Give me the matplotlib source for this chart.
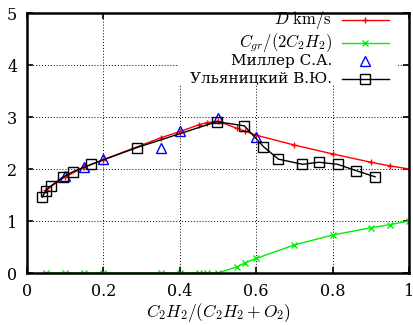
import matplotlib

matplotlib.use("Agg")
import matplotlib.pyplot as plt
from matplotlib.patches import Rectangle

# detonation speed and graphite fraction vs. acetylene fraction
x_calc = [0.05, 0.1, 0.15, 0.2, 0.35, 0.4, 0.45, 0.47, 0.5, 0.55, 0.57, 0.6, 0.7, 0.8, 0.9, 0.95, 1.0]
d_speed = [1.6, 1.85, 2.03, 2.18, 2.6, 2.72, 2.85, 2.89, 2.92, 2.78, 2.73, 2.65, 2.46, 2.29, 2.13, 2.06, 2.0]
c_gr = [0, 0, 0, 0, 0, 0, 0, 0, 0, 0.12, 0.19, 0.28, 0.54, 0.73, 0.87, 0.93, 1.0]

x_miller = [0.1, 0.15, 0.2, 0.35, 0.4, 0.5, 0.6]
d_miller = [1.87, 2.03, 2.2, 2.4, 2.73, 2.98, 2.62]

x_ulyan = [0.04, 0.049, 0.062, 0.093, 0.121, 0.168, 0.287, 0.497, 0.569, 0.619, 0.658,
           0.721, 0.764, 0.813, 0.861, 0.911]
d_ulyan = [1.46, 1.58, 1.67, 1.84, 1.95, 2.09, 2.41, 2.91, 2.83, 2.43, 2.19,
           2.09, 2.13, 2.09, 1.97, 1.85]

labels = [r"$D\ \mathrm{km/s}$", "$C_{gr}/(2C_2H_2)$", "Миллер С.А.", "Ульяницкий В.Ю."]

x_ticks = [0, 0.2, 0.4, 0.6, 0.8, 1]
x_tick_labels = ["0", "0.2", "0.4", "0.6", "0.8", "1"]
y_ticks = [0, 1, 2, 3, 4, 5]

plt.rcParams["font.family"] = ["DejaVu Serif"]
plt.rcParams["mathtext.fontset"] = "cm"
plt.rcParams["font.size"] = 11

fig = plt.figure(figsize=(4.14, 3.25), dpi=100)
ax = fig.add_axes([0.0652, 0.16, 0.9228, 0.80])

styles = [
    dict(color="red", lw=1, marker="+", ms=5, mew=1),
    dict(color="#00ee00", lw=1, marker="x", ms=4, mew=1),
    dict(ls="none", marker="^", ms=7, mfc="none", mec="blue", mew=1),
    dict(color="black", lw=1, marker="s", ms=7.5, mfc="none", mec="black", mew=1),
]

ax.plot(x_calc, d_speed, **styles[0])
ax.plot(x_calc, c_gr, **styles[1])
ax.plot(x_miller, d_miller, **styles[2])
ax.plot(x_ulyan, d_ulyan, **styles[3])

ax.set_xlim(0, 1)
ax.set_ylim(0, 5)
ax.set_xticks(x_ticks)
ax.set_xticklabels(x_tick_labels)
ax.set_yticks(y_ticks)
ax.tick_params(direction="in", top=True, right=True, length=4, width=1.2, pad=7,
               labelsize=11.5)
for s in ax.spines.values():
    s.set_linewidth(1.8)
ax.grid(True, color="black", ls=(0, (1, 2)), lw=0.7)
ax.set_axisbelow(True)

ax.set_xlabel("$C_2H_2/(C_2H_2+O_2)$", fontsize=12.5, labelpad=1)

# gnuplot-style key: text right-aligned, sample on the right, white box behind
ax.add_patch(Rectangle((0.395, 0.723), 0.575, 0.275, transform=ax.transAxes,
                       facecolor="white", edgecolor="none", zorder=1.5))
row_y = [0.972, 0.886, 0.816, 0.748]
for i, (lab, st) in enumerate(zip(labels, styles)):
    y = row_y[i]
    ax.text(0.798, y, lab, transform=ax.transAxes, ha="right", va="center",
            fontsize=12 if i < 2 else 11, zorder=3)
    if st.get("ls") != "none":
        line = {k: v for k, v in st.items() if k not in ("marker", "ms", "mew", "mfc", "mec")}
        ax.plot([0.825, 0.948], [y, y], transform=ax.transAxes, clip_on=False,
                zorder=3, **line)
    mk = {k: v for k, v in st.items() if k not in ("lw", "ls")}
    ax.plot([0.886], [y], transform=ax.transAxes, clip_on=False, ls="none",
            zorder=3, **mk)

fig.savefig("out.png", dpi=100)
